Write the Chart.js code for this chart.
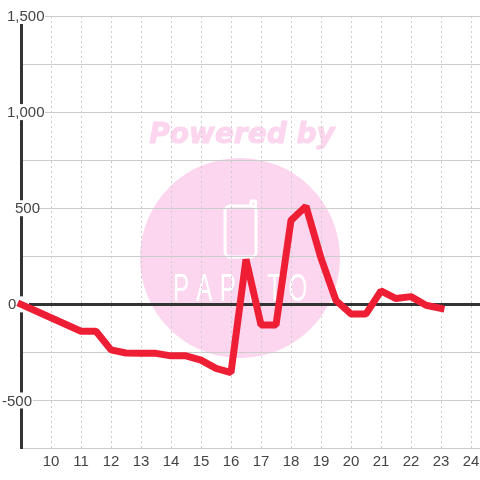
<!DOCTYPE html>
<html>
<head>
<meta charset="utf-8">
<style>
  html, body { margin: 0; padding: 0; background: #fff; }
  #wrap { width: 480px; height: 480px; position: relative; }
</style>
<script src="https://cdn.jsdelivr.net/npm/chart.js@4"></script>
</head>
<body>
<div id="wrap"><canvas id="chart"></canvas></div>
<script>
const hours = [9, 9.5, 10, 10.5, 11, 11.5, 12, 12.5, 13, 13.5, 14, 14.5, 15, 15.5, 16, 16.5, 17, 17.5, 18, 18.5, 19, 19.5, 20, 20.5, 21, 21.5, 22, 22.5, 23];
const values = [0, -35, -70, -105, -140, -140, -237, -253, -255, -255, -268, -268, -290, -333, -355, 234, -107, -107, 437, 510, 240, 20, -50, -50, 70, 30, 40, -5, -21];
const xTicks = [9, 10, 11, 12, 13, 14, 15, 16, 17, 18, 19, 20, 21, 22, 23, 24];
const yLabelLeft = { '1,500': 7, '1,000': 7, '500': 15, '0': 8, '-500': 2 };
const yBoxRight = { '1,500': 45, '1,000': 45, '500': 37, '0': 29, '-500': 33 };
const logoLetters = ['P', 'A', 'P', 'I', 'T', 'O'];

// logo sits under the grid, so it goes in before anything else is drawn
const watermark = {
  id: 'watermark',
  beforeDraw(c) {
    const ctx = c.ctx;
    ctx.save();
    ctx.fillStyle = '#fbd6ee';
    ctx.strokeStyle = '#fbd6ee';
    ctx.beginPath();
    ctx.arc(240, 258, 100, 0, Math.PI * 2);
    ctx.fill();
    ctx.font = 'italic bold 28px "DejaVu Sans"';
    ctx.textAlign = 'center';
    ctx.textBaseline = 'middle';
    ctx.lineWidth = 1;
    ctx.lineJoin = 'round';
    ctx.fillText('Powered by', 242, 136);
    ctx.strokeText('Powered by', 242, 136);
    // phone outline
    ctx.strokeStyle = '#fff';
    ctx.lineWidth = 3;
    ctx.lineCap = 'round';
    ctx.beginPath();
    ctx.roundRect(225, 206, 31, 51, 5);
    ctx.moveTo(255.5, 208);
    ctx.lineTo(255.5, 201);
    ctx.lineTo(251, 201);
    ctx.lineTo(251, 206);
    ctx.stroke();
    // squeezed letters, the logo type is tall and narrow
    ctx.fillStyle = '#fff';
    ctx.font = '39px "Liberation Sans"';
    logoLetters.forEach((ch, i) => {
      ctx.save();
      ctx.translate(181 + i * 23.4, 290);
      ctx.scale(0.62, 1);
      ctx.fillText(ch, 0, 0);
      ctx.restore();
    });
    ctx.restore();
  },
};

// tick labels sit on the axis with a white box behind them
const yLabels = {
  id: 'yLabels',
  beforeDatasetsDraw(c) {
    const ctx = c.ctx;
    const scale = c.scales.y;
    ctx.save();
    ctx.font = '15px "Liberation Sans"';
    ctx.textAlign = 'left';
    ctx.textBaseline = 'middle';
    scale.ticks.forEach(t => {
      if (!t.label) return;
      const y = scale.getPixelForValue(t.value);
      const left = yLabelLeft[t.label];
      ctx.fillStyle = '#fff';
      ctx.fillRect(left - 1, y - 8, yBoxRight[t.label] - left + 1, 16);
      ctx.fillStyle = '#444';
      ctx.fillText(t.label, left, y + 1);
    });
    ctx.restore();
  },
};

new Chart(document.getElementById('chart'), {
  type: 'line',
  data: {
    datasets: [{
      data: hours.map((h, i) => ({ x: h, y: values[i] })),
      borderColor: '#ee1f35',
      borderWidth: 7,
      borderJoinStyle: 'bevel',
      borderCapStyle: 'square',
      clip: false,
      pointRadius: 0,
      tension: 0,
      fill: false,
    }],
  },
  options: {
    responsive: true,
    maintainAspectRatio: false,
    animation: false,
    layout: { padding: { top: 16 } },
    plugins: { legend: { display: false }, tooltip: { enabled: false } },
    scales: {
      x: {
        type: 'linear',
        min: 9,
        max: 24.3,
        afterBuildTicks: s => { s.ticks = xTicks.map(value => ({ value })); },
        afterFit: s => { s.height = 31.5; s.paddingLeft = 0; s.paddingRight = 0; },
        border: { display: false, dash: [2, 3] },
        grid: { color: '#ccc', lineWidth: 1, drawTicks: false },
        ticks: {
          autoSkip: false,
          maxRotation: 0,
          padding: 4,
          color: '#444',
          font: { family: '"Liberation Sans"', size: 15 },
          callback: v => (v === 9 ? '' : String(v)),
        },
      },
      y: {
        min: -750,
        max: 1500,
        afterFit: s => { s.width = 21; s.paddingTop = 0; s.paddingBottom = 0; },
        border: { color: '#333', width: 3 },
        grid: {
          color: ctx => (ctx.tick.value === 0 ? '#333' : '#ccc'),
          lineWidth: ctx => (ctx.tick.value === 0 ? 3 : 1),
          drawTicks: false,
        },
        ticks: {
          stepSize: 250,
          display: false,
          callback: v => (v % 500 === 0 ? v.toLocaleString('en-US') : ''),
        },
      },
    },
  },
  plugins: [watermark, yLabels],
});
</script>
</body>
</html>
